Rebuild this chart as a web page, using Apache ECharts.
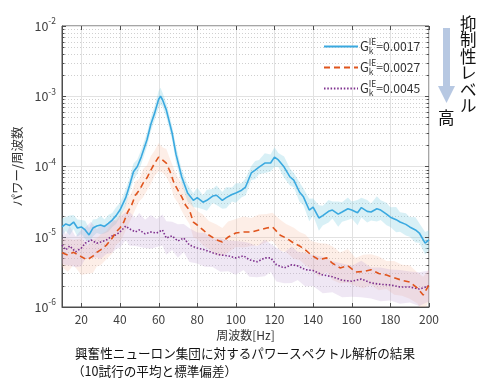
<!DOCTYPE html>
<html><head><meta charset="utf-8">
<script src="https://cdn.jsdelivr.net/npm/echarts@6/dist/echarts.min.js"></script>
<style>html,body{margin:0;padding:0;background:#fff}#c{width:489px;height:388px}</style>
</head><body><div id="c"></div>
<script>
// ---------- data ----------
const legendLabels = ['0.0017', '0.0027', '0.0045'];
const xTicks = [20, 40, 60, 80, 100, 120, 140, 160, 180, 200];
const yDecades = [1e-6, 1e-5, 1e-4, 1e-3, 1e-2];

const blueFreq = [10,12,14,16,18,20,22,24,26,28,30,32,34,36,38,40,43,45,47,49,51,54,56,58,60,61,62,64,67,69,72,75,78,80,83,85,88,90,93,95,98,100,103,105,108,110,112,115,118,120,122,125,128,130,133,135,138,140,143,145,148,150,153,155,158,160,163,165,168,170,173,175,178,180,183,185,188,190,193,195,198,200];
const blueVal = [1.38e-5,1.52e-5,1.45e-5,1.62e-5,1.33e-5,1.38e-5,1.25e-5,1.06e-5,1.33e-5,1.42e-5,1.47e-5,1.40e-5,1.55e-5,1.73e-5,2.0e-5,2.4e-5,3.6e-5,5.4e-5,8.4e-5,1.0e-4,1.36e-4,2.4e-4,4.0e-4,5.8e-4,9.0e-4,1.0e-3,9.0e-4,6.4e-4,3.0e-4,1.5e-4,7.1e-5,4.2e-5,3.3e-5,3.6e-5,3.1e-5,3.3e-5,3.8e-5,3.9e-5,3.3e-5,3.6e-5,4.0e-5,4.2e-5,4.6e-5,5.1e-5,8.1e-5,8.9e-5,9.8e-5,1.12e-4,1.12e-4,1.36e-4,1.24e-4,9.8e-5,7.1e-5,6.4e-5,4.3e-5,3.7e-5,2.4e-5,2.65e-5,1.85e-5,2.0e-5,2.3e-5,2.4e-5,2.1e-5,2.25e-5,2.5e-5,2.4e-5,2.2e-5,2.6e-5,2.3e-5,2.25e-5,2.5e-5,2.4e-5,2.1e-5,1.9e-5,1.75e-5,1.62e-5,1.5e-5,1.38e-5,1.25e-5,1.13e-5,8.1e-6,9.0e-6];
const blueSpread = [0.12,0.1,0.14,0.1,0.12,0.1,0.13,0.1,0.12,0.1,0.13,0.1,0.12,0.1,0.12,0.1,0.12,0.1,0.12,0.1,0.1,0.1,0.1,0.1,0.12,0.12,0.1,0.1,0.1,0.12,0.1,0.12,0.1,0.14,0.1,0.15,0.1,0.14,0.12,0.15,0.1,0.14,0.1,0.12,0.1,0.13,0.1,0.14,0.12,0.14,0.1,0.15,0.12,0.1,0.14,0.12,0.16,0.12,0.18,0.14,0.16,0.12,0.18,0.14,0.16,0.12,0.18,0.14,0.16,0.12,0.18,0.14,0.16,0.14,0.18,0.14,0.16,0.14,0.18,0.14,0.16,0.14];

const orangeFreq = [10,13,16,20,23,26,28,30,33,36,38,40,42,44,46,48,50,52,54,56,58,60,62,64,66,68,70,72,74,76,78,80,83,86,90,93,96,100,104,108,112,116,119,123,126,130,133,136,139,143,147,150,154,158,162,166,170,174,178,182,186,190,194,197,200];
const orangeVal = [5.9e-6,5.5e-6,6.0e-6,5.2e-6,4.7e-6,5.3e-6,6.0e-6,6.5e-6,7.6e-6,9.6e-6,1.17e-5,1.33e-5,1.62e-5,2.25e-5,2.8e-5,3.9e-5,4.6e-5,5.8e-5,6.9e-5,8.9e-5,1.12e-4,1.36e-4,1.24e-4,1.12e-4,8.4e-5,5.8e-5,4.6e-5,3.7e-5,2.8e-5,2.4e-5,1.62e-5,1.47e-5,1.25e-5,1.06e-5,9.0e-6,8.4e-6,9.9e-6,1.13e-5,1.17e-5,1.17e-5,1.25e-5,1.33e-5,1.38e-5,1.05e-5,9.6e-6,8.1e-6,7.4e-6,6.5e-6,5.5e-6,4.7e-6,5.0e-6,4.2e-6,3.6e-6,3.85e-6,3.15e-6,3.2e-6,3.4e-6,3.0e-6,2.86e-6,2.6e-6,2.4e-6,2.27e-6,1.86e-6,1.48e-6,2.06e-6];
const orangeSpread = [0.2,0.24,0.18,0.26,0.2,0.24,0.2,0.22,0.2,0.22,0.18,0.2,0.18,0.2,0.18,0.2,0.16,0.2,0.18,0.2,0.18,0.2,0.18,0.2,0.18,0.2,0.18,0.2,0.18,0.2,0.22,0.2,0.22,0.2,0.22,0.2,0.22,0.2,0.22,0.2,0.22,0.2,0.2,0.22,0.2,0.22,0.2,0.22,0.2,0.24,0.2,0.24,0.22,0.24,0.2,0.24,0.22,0.24,0.2,0.24,0.22,0.24,0.22,0.26,0.22];

const purpleFreq = [10,12,14,17,20,22,25,28,30,33,36,38,40,43,45,48,50,53,56,59,62,64,67,70,73,76,80,84,88,92,96,100,104,107,111,115,118,121,125,129,132,136,140,145,150,155,160,165,170,175,180,185,190,195,200];
const purpleVal = [7.6e-6,6.5e-6,7.4e-6,6.1e-6,6.9e-6,8.1e-6,9.0e-6,8.1e-6,8.4e-6,9.0e-6,1.03e-5,1.06e-5,1.17e-5,1.42e-5,1.29e-5,1.17e-5,1.25e-5,1.10e-5,1.17e-5,1.13e-5,1.25e-5,9.6e-6,1.03e-5,8.7e-6,9.6e-6,7.6e-6,6.9e-6,6.5e-6,5.9e-6,5.5e-6,5.35e-6,5.0e-6,5.35e-6,4.7e-6,4.4e-6,5.0e-6,5.0e-6,4.0e-6,3.6e-6,4.0e-6,3.85e-6,3.4e-6,3.3e-6,2.86e-6,2.7e-6,2.4e-6,2.33e-6,2.5e-6,2.2e-6,2.1e-6,2.06e-6,1.93e-6,1.93e-6,1.8e-6,2.0e-6];
const purpleSpread = [0.26,0.22,0.28,0.22,0.26,0.22,0.26,0.2,0.24,0.2,0.24,0.2,0.22,0.2,0.24,0.2,0.24,0.2,0.24,0.2,0.22,0.24,0.2,0.24,0.2,0.24,0.22,0.24,0.2,0.24,0.22,0.24,0.2,0.24,0.22,0.26,0.2,0.24,0.22,0.26,0.2,0.24,0.22,0.26,0.22,0.24,0.22,0.26,0.22,0.24,0.22,0.24,0.22,0.24,0.22];

// ---------- helpers ----------
const FONT = '"Noto Sans CJK JP","Noto Sans",sans-serif';
const pairs = (f, v) => f.map((x, i) => [x, v[i]]);
const yMinor = [];
yDecades.slice(0, -1).forEach(d => { for (let m = 2; m <= 9; m++) yMinor.push(d * m); });

function band(name, freq, val, spread, fill) {
  const data = freq.map((f, i) => [f, val[i] * Math.pow(10, -spread[i]), val[i] * Math.pow(10, spread[i])]);
  return {
    type: 'custom', name, z: 2, silent: true, clip: true, data,
    encode: { x: 0, y: [1, 2] },
    renderItem(params, api) {
      if (params.dataIndex !== 0) return null;
      const up = data.map(d => api.coord([d[0], d[2]]));
      const lo = data.map(d => api.coord([d[0], d[1]])).reverse();
      return { type: 'polygon', shape: { points: up.concat(lo) }, style: { fill } };
    }
  };
}
function line(name, freq, val, color, type, width) {
  return {
    type: 'line', name, data: pairs(freq, val), symbol: 'none', showSymbol: false,
    lineStyle: { color, width, type }, itemStyle: { color }, z: 5, clip: true
  };
}

const chart = echarts.init(document.getElementById('c'), null, { renderer: 'canvas' });
const tickColor = '#4d4d4d';
const option = {
  animation: false,
  textStyle: { fontFamily: FONT },
  grid: { left: 62, right: 60, top: 26, bottom: 81, show: true, borderColor: tickColor, borderWidth: 1, backgroundColor: '#fff' },
  xAxis: {
    type: 'value', min: 10, max: 200, interval: 10,
    name: '周波数[Hz]', nameLocation: 'middle', nameGap: 20,
    nameTextStyle: { color: '#333', fontSize: 12, fontFamily: FONT },
    axisLine: { show: true, onZero: false, lineStyle: { color: tickColor } },
    axisTick: { show: false }, splitLine: { show: false },
    axisLabel: { color: '#404040', fontSize: 12, margin: 6, fontFamily: FONT,
      formatter: v => (xTicks.indexOf(v) >= 0 ? String(v) : '') }
  },
  yAxis: {
    type: 'log', logBase: 10, min: 1e-6, max: 1e-2,
    name: 'パワー/周波数', nameLocation: 'middle', nameGap: 25, nameRotate: 90,
    nameTextStyle: { color: '#333', fontSize: 12.5, fontFamily: FONT },
    axisLine: { show: true, lineStyle: { color: tickColor } },
    axisTick: { show: true, inside: true, length: 4, lineStyle: { color: tickColor } },
    splitLine: { show: true, lineStyle: { color: '#e2e2e2', width: 1 } },
    minorTick: { show: false },
    axisLabel: {
      margin: 6, fontFamily: FONT,
      formatter: v => '{b|10}{e|' + Math.round(Math.log10(v)) + '}',
      rich: {
        b: { fontSize: 12.5, color: '#404040', lineHeight: 18, fontFamily: FONT },
        e: { fontSize: 8.5, color: '#404040', lineHeight: 8, verticalAlign: 'top', fontFamily: FONT }
      }
    }
  },
  legend: {
    orient: 'vertical', left: 318, top: 33, itemWidth: 34, itemHeight: 10, itemGap: 4,
    data: legendLabels,
    itemStyle: { opacity: 0 },
    formatter: n => '{g|G}{k|k}{s|IE}{v|=' + n + '}',
    textStyle: {
      color: '#333', padding: [0, 0, 0, -3],
      rich: {
        g: { fontSize: 12.8, fontFamily: FONT, lineHeight: 17 },
        k: { fontSize: 8.5, fontFamily: FONT, width: 0, verticalAlign: 'bottom', lineHeight: 9, padding: [7, 0, 0, 0] },
        s: { fontSize: 8.5, fontFamily: FONT, verticalAlign: 'top', lineHeight: 9 },
        v: { fontSize: 12.2, fontFamily: FONT, lineHeight: 17 }
      }
    }
  },
  graphic: [
    { type: 'text', left: 75, top: 347, style: { text: '興奮性ニューロン集団に対するパワースペクトル解析の結果', fontSize: 12.6, fill: '#111', fontFamily: FONT } },
    { type: 'text', left: 72, top: 365, style: { text: '（10試行の平均と標準偏差）', fontSize: 12.6, fill: '#111', fontFamily: FONT } },
    { type: 'text', left: 460, top: 15, style: { text: '抑\n制\n性\nレ\nベ\nル', fontSize: 16.5, lineHeight: 16.5, fill: '#111', fontFamily: FONT } },
    { type: 'polygon', shape: { points: [[443, 28], [450, 28], [450, 86], [455, 86], [446.5, 103], [438, 86], [443, 86]] }, style: { fill: '#b7c8e2' } },
    { type: 'text', left: 438, top: 109, style: { text: '高', fontSize: 16.5, fill: '#111', fontFamily: FONT } }
  ],
  series: [
    {
      type: 'custom', name: 'vgrid', z: 1, silent: true, clip: false,
      data: xTicks.map(v => [v, 1e-4]), encode: { x: 0, y: 1 },
      renderItem(params, api) {
        const cs = params.coordSys;
        const x = Math.round(api.coord([api.value(0), 1e-4])[0]) + 0.5;
        const top = cs.y, bot = cs.y + cs.height;
        return { type: 'group', children: [
          { type: 'line', shape: { x1: x, y1: top, x2: x, y2: bot }, style: { stroke: '#e2e2e2', lineWidth: 1 } },
          { type: 'line', z2: 10, shape: { x1: x, y1: bot, x2: x, y2: bot - 4 }, style: { stroke: tickColor, lineWidth: 1 } },
          { type: 'line', z2: 10, shape: { x1: x, y1: top, x2: x, y2: top + 4 }, style: { stroke: tickColor, lineWidth: 1 } }
        ] };
      }
    },
    {
      type: 'custom', name: 'minor', z: 1, silent: true, clip: false,
      data: yMinor.map(v => [100, v]), encode: { x: 0, y: 1 },
      renderItem(params, api) {
        const cs = params.coordSys;
        const y = Math.round(api.coord([100, api.value(1)])[1]) + 0.5;
        const l = cs.x, r = cs.x + cs.width;
        return { type: 'group', children: [
          { type: 'line', shape: { x1: l, y1: y, x2: r, y2: y }, style: { stroke: '#cfcfcf', lineWidth: 1, lineDash: [1, 2] } },
          { type: 'line', shape: { x1: l, y1: y, x2: l + 2.5, y2: y }, style: { stroke: tickColor, lineWidth: 1 } },
          { type: 'line', shape: { x1: r - 2.5, y1: y, x2: r, y2: y }, style: { stroke: tickColor, lineWidth: 1 } }
        ] };
      }
    },
    {
      type: 'custom', name: 'rticks', z: 6, silent: true, clip: false,
      data: yDecades.map(v => [100, v]), encode: { x: 0, y: 1 },
      renderItem(params, api) {
        const cs = params.coordSys;
        const y = Math.round(api.coord([100, api.value(1)])[1]) + 0.5;
        const r = cs.x + cs.width;
        return { type: 'line', shape: { x1: r - 4, y1: y, x2: r, y2: y }, style: { stroke: tickColor, lineWidth: 1 } };
      }
    },
    band('bb', blueFreq, blueVal, blueSpread, 'rgba(125,205,225,0.30)'),
    band('ob', orangeFreq, orangeVal, orangeSpread, 'rgba(248,185,155,0.24)'),
    band('pb', purpleFreq, purpleVal, purpleSpread, 'rgba(190,160,210,0.25)'),
    line('0.0045', purpleFreq, purpleVal, '#7e2f8e', [1.5, 1.8], 1.6),
    line('0.0027', orangeFreq, orangeVal, '#e0541c', [6, 4], 1.6),
    line('0.0017', blueFreq, blueVal, '#3aa9e0', 'solid', 1.6)
  ]
};
chart.setOption(option);
</script></body></html>
